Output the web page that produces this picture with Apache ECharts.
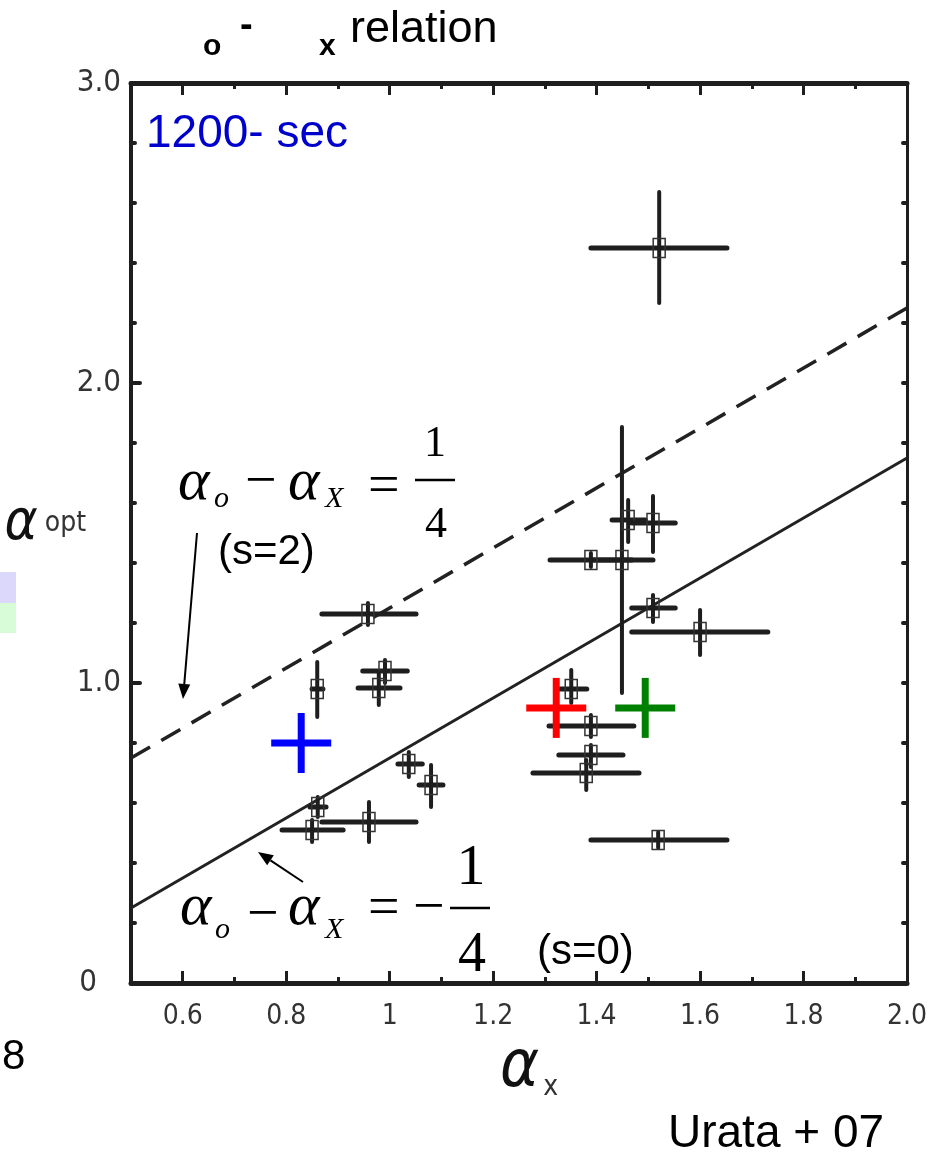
<!DOCTYPE html>
<html>
<head>
<meta charset="utf-8">
<script src="https://cdn.jsdelivr.net/npm/echarts@6/dist/echarts.min.js"></script>
<style>
  html, body { margin: 0; padding: 0; background: #fff; }
  #chart { width: 931px; height: 1159px; }
</style>
</head>
<body>
<div id="chart"></div>
<script>
// ---- data: X-ray index (alpha_X) vs optical index (alpha_opt), with 1-sigma ranges ----
const alphaX      = [1.521, 1.449, 1.389, 1.461, 1.509, 1.509, 1.600, 1.351, 1.389, 1.389, 1.380, 1.519, 0.958, 0.991, 0.979, 0.860, 0.861, 0.850, 0.960, 1.037, 1.080];
const alphaOpt    = [2.450, 1.410, 1.410, 1.543, 1.533, 1.250, 1.170, 0.980, 0.857, 0.760, 0.700, 0.477, 1.230, 1.040, 0.983, 0.980, 0.587, 0.510, 0.537, 0.730, 0.660];
const alphaXLo    = [1.389, 1.389, 1.310, 1.430, 1.468, 1.468, 1.468, 1.329, 1.308, 1.327, 1.277, 1.389, 0.869, 0.948, 0.939, 0.850, 0.846, 0.792, 0.869, 1.016, 1.057];
const alphaXHi    = [1.652, 1.509, 1.468, 1.494, 1.552, 1.552, 1.731, 1.381, 1.472, 1.451, 1.482, 1.652, 1.051, 1.034, 1.020, 0.871, 0.877, 0.910, 1.051, 1.063, 1.103];
const alphaOptLo  = [2.267, 0.967, 1.387, 1.470, 1.437, 1.203, 1.093, 0.933, 0.820, 0.720, 0.643, 0.450, 1.193, 1.000, 0.927, 0.887, 0.553, 0.470, 0.470, 0.687, 0.587];
const alphaOptHi  = [2.637, 1.853, 1.433, 1.610, 1.623, 1.293, 1.243, 1.043, 0.893, 0.793, 0.743, 0.503, 1.267, 1.077, 1.033, 1.070, 0.620, 0.543, 0.603, 0.770, 0.727];

// highlighted events (blue, red, green crosses)
const eventNames  = ['blue', 'red', 'green'];
const eventX      = [0.829, 1.322, 1.494];
const eventY      = [0.800, 0.917, 0.917];
const eventXLo    = [0.771, 1.264, 1.436];
const eventXHi    = [0.887, 1.380, 1.552];
const eventYLo    = [0.700, 0.817, 0.817];
const eventYHi    = [0.900, 1.017, 1.017];

// closure relations alpha_o - alpha_X = -1/4 (s=0) and +1/4 (s=2)
const sZeroLine   = [[0.5, 0.25], [2.0, 1.75]];
const sTwoLine    = [[0.5, 0.75], [2.0, 2.25]];

// axis ticks and labels
const xMajorTicks = [0.6, 0.8, 1.0, 1.2, 1.4, 1.6, 1.8, 2.0];
const xTickLabels = ['0.6', '0.8', '1', '1.2', '1.4', '1.6', '1.8', '2.0'];
const xMinorTicks = [0.7, 0.9, 1.1, 1.3, 1.5, 1.7, 1.9];
const yLabelTicks = [0, 1, 2, 3];
const yTickLabels = ['0', '1.0', '2.0', '3.0'];
const yMajorTicks = [1, 2];
const yMinorTicks = [0.2, 0.4, 0.6, 0.8, 1.2, 1.4, 1.6, 1.8, 2.2, 2.4, 2.6, 2.8];

// ---- styling ----
const INK = '#1e1e1e';
const SANS = "'Liberation Sans', Arial, sans-serif";
const SERIF = "'Liberation Serif', 'Times New Roman', serif";
const NARROW = "'Liberation Sans Narrow', 'DejaVu Sans Condensed', sans-serif";
const eventColors = ['#0000ff', '#ff0000', '#008000'];

function pick(list, ticks, v) {
  for (let i = 0; i < ticks.length; i++) if (Math.abs(ticks[i] - v) < 1e-6) return list[i];
  return '';
}

// text placed by its baseline (canvas 'middle' sits roughly 0.3em above the baseline)
function txt(str, x, baseline, size, opt) {
  opt = opt || {};
  const serif = opt.serif;
  const k = serif ? 0.28 : 0.3465;
  const font = (opt.italic ? 'italic ' : '') + (opt.bold ? 'bold ' : '') + size + 'px ' + (serif ? SERIF : SANS);
  const align = opt.align || 'left';
  return {
    type: 'text', x: x, y: baseline - k * size, z: 50,
    style: { text: str, font: font, fill: opt.color || '#000',
             align: align, textAlign: align, verticalAlign: 'middle', textVerticalAlign: 'middle' }
  };
}
// operator glyph placed by its vertical centre
function sym(str, x, center, size) {
  return txt(str, x, center + 0.30 * size, size, { serif: true });
}
function bar(x1, x2, y) {
  return { type: 'line', z: 50, shape: { x1: x1, y1: y, x2: x2, y2: y }, style: { stroke: '#000', lineWidth: 2.5 } };
}
function arrow(x1, y1, x2, y2) {
  const dx = x2 - x1, dy = y2 - y1, L = Math.hypot(dx, dy);
  const ux = dx / L, uy = dy / L, hl = 15, hw = 6;
  const bx = x2 - ux * hl, by = y2 - uy * hl;
  return [
    { type: 'line', z: 50, shape: { x1: x1, y1: y1, x2: bx, y2: by }, style: { stroke: '#000', lineWidth: 2 } },
    { type: 'polygon', z: 50, shape: { points: [[x2, y2], [bx - uy * hw, by + ux * hw], [bx + uy * hw, by - ux * hw]] }, style: { fill: '#000' } }
  ];
}

const pointData = alphaX.map((x, i) => [x, alphaOpt[i], alphaXLo[i], alphaXHi[i], alphaOptLo[i], alphaOptHi[i]]);
const eventData = eventX.map((x, i) => [x, eventY[i], eventXLo[i], eventXHi[i], eventYLo[i], eventYHi[i]]);

function bars(api, hw, vw, color, cap) {
  const l = api.coord([api.value(2), api.value(1)]);
  const r = api.coord([api.value(3), api.value(1)]);
  const b = api.coord([api.value(0), api.value(4)]);
  const t = api.coord([api.value(0), api.value(5)]);
  return [
    { type: 'line', shape: { x1: l[0], y1: l[1], x2: r[0], y2: r[1] }, style: { stroke: color, lineWidth: hw, lineCap: cap } },
    { type: 'line', shape: { x1: b[0], y1: b[1], x2: t[0], y2: t[1] }, style: { stroke: color, lineWidth: vw, lineCap: cap } }
  ];
}

function renderPoint(params, api) {
  const c = api.coord([api.value(0), api.value(1)]);
  const kids = bars(api, 5, 4, INK, 'round');
  kids.push({ type: 'rect', shape: { x: c[0] - 6, y: c[1] - 9.5, width: 12, height: 19 },
              style: { fill: 'none', stroke: '#333', lineWidth: 1.5 } });
  return { type: 'group', children: kids };
}
function renderEvent(params, api) {
  return { type: 'group', children: bars(api, 7, 7, eventColors[params.dataIndex], 'butt') };
}

function xAxisDef(pos, ticks, len, withLine, withLabels) {
  return {
    type: 'value', min: 0.5, max: 2.0, position: pos,
    axisLine: { show: withLine, onZero: false, lineStyle: { color: INK, width: 5 } },
    axisTick: { show: true, inside: true, length: len, customValues: ticks, lineStyle: { color: INK, width: 3 } },
    axisLabel: withLabels ? {
      show: true, customValues: xMajorTicks, margin: 20,
      formatter: v => pick(xTickLabels, xMajorTicks, v),
      fontFamily: NARROW, fontSize: 28, color: '#333'
    } : { show: false },
    splitLine: { show: false }
  };
}
function yAxisDef(pos, ticks, len, withLine, lineW, withLabels) {
  return {
    type: 'value', min: 0, max: 3, position: pos,
    axisLine: { show: withLine, onZero: false, lineStyle: { color: INK, width: lineW } },
    axisTick: { show: true, inside: true, length: len, customValues: ticks, lineStyle: { color: INK, width: 4, cap: 'round' } },
    axisLabel: withLabels ? {
      show: true, customValues: yLabelTicks, margin: 10,
      formatter: v => (Math.abs(v) < 1e-6 ? '{z|0}' : pick(yTickLabels, yLabelTicks, v)),
      fontFamily: NARROW, fontSize: 31, color: '#333',
      rich: { z: { fontFamily: NARROW, fontSize: 31, color: '#333', padding: [0, 24, 0, 0] } }
    } : { show: false },
    splitLine: { show: false }
  };
}

const xMain = xAxisDef('bottom', xMajorTicks, 12, true, true);
xMain.name = '{a|α}{b|x}';
xMain.nameLocation = 'middle';
xMain.nameGap = 50;
xMain.nameTextStyle = { rich: {
  a: { fontFamily: NARROW, fontStyle: 'italic', fontSize: 66, color: '#111', padding: [0, 0, 0, 20] },
  b: { fontFamily: NARROW, fontSize: 28, color: '#333', verticalAlign: 'bottom', padding: [0, 0, 0, 4] }
} };

const yMain = yAxisDef('left', yMajorTicks, 9, true, 4, true);
yMain.name = '{a|α}{b|opt}';
yMain.nameLocation = 'middle';
yMain.nameRotate = 0;
yMain.nameGap = 45;
yMain.nameMoveOverlap = false;
yMain.nameTextStyle = { padding: [0, 0, 18, 0], rich: {
  a: { fontFamily: NARROW, fontStyle: 'italic', fontSize: 56, color: '#111' },
  b: { fontFamily: NARROW, fontSize: 28, color: '#333', padding: [0, 0, 0, 7] }
} };

const graphics = [
  // title
  txt('o', 203, 57, 30, { bold: true }),
  txt('-', 240, 40, 38, { bold: true }),
  txt('x', 319, 57, 30, { bold: true }),
  txt('relation', 350, 45, 45),
  // time label
  txt('1200- sec', 146, 150, 46, { color: '#0000cd' }),
  // upper relation
  txt('α', 178, 500, 60, { serif: true, italic: true }),
  txt('o', 214, 508, 30, { serif: true, italic: true }),
  sym('\u2212', 245, 482, 56),
  txt('α', 288, 500, 60, { serif: true, italic: true }),
  txt('X', 325, 508, 30, { serif: true, italic: true }),
  sym('=', 368, 487, 56),
  bar(415, 455, 480),
  txt('1', 435, 457, 44, { serif: true, align: 'center' }),
  txt('4', 436, 538, 44, { serif: true, align: 'center' }),
  txt('(s=2)', 218, 567, 42),
  // lower relation
  txt('α', 180, 925, 60, { serif: true, italic: true }),
  txt('o', 215, 939, 30, { serif: true, italic: true }),
  sym('\u2212', 247, 915, 56),
  txt('α', 288, 925, 60, { serif: true, italic: true }),
  txt('X', 325, 939, 30, { serif: true, italic: true }),
  sym('=', 368, 909, 56),
  sym('\u2212', 413, 908, 56),
  bar(450, 490, 908),
  txt('1', 471, 885, 58, { serif: true, align: 'center' }),
  txt('4', 472, 972, 56, { serif: true, align: 'center' }),
  txt('(s=0)', 537, 967, 42),
  // side notes
  txt('8', 2, 1072, 42),
  txt('Urata + 07', 668, 1150, 46),
  { type: 'rect', shape: { x: 0, y: 572, width: 16, height: 31 }, style: { fill: '#dcd8fc' } },
  { type: 'rect', shape: { x: 0, y: 603, width: 16, height: 30 }, style: { fill: '#d8fcd8' } }
].concat(arrow(197, 533, 183, 699), arrow(303, 882, 258, 852));

const chart = echarts.init(document.getElementById('chart'), null, { renderer: 'canvas' });
chart.setOption({
  animation: false,
  backgroundColor: '#fff',
  grid: { left: 131, right: 24, top: 83, bottom: 176, containLabel: false, outerBoundsMode: 'none' },
  xAxis: [
    xMain,
    xAxisDef('bottom', xMinorTicks, 6, false, false),
    xAxisDef('top', xMajorTicks, 12, true, false),
    xAxisDef('top', xMinorTicks, 6, false, false)
  ],
  yAxis: [
    yMain,
    yAxisDef('left', yMinorTicks, 4, false, 4, false),
    yAxisDef('right', yMinorTicks.concat(yMajorTicks), 4, true, 3, false)
  ],
  series: [
    { name: 's=0', type: 'line', data: sZeroLine, showSymbol: false, z: 2,
      lineStyle: { color: '#222', width: 3 } },
    { name: 's=2', type: 'line', data: sTwoLine, showSymbol: false, z: 2,
      lineStyle: { color: '#222', width: 3.5, type: [22, 13] } },
    { name: 'bursts', type: 'custom', data: pointData, renderItem: renderPoint,
      encode: { x: 0, y: 1 }, clip: false, z: 5 },
    { name: 'events', type: 'custom', data: eventData, renderItem: renderEvent,
      encode: { x: 0, y: 1 }, clip: false, z: 6 }
  ],
  graphic: graphics
});
</script>
</body>
</html>
